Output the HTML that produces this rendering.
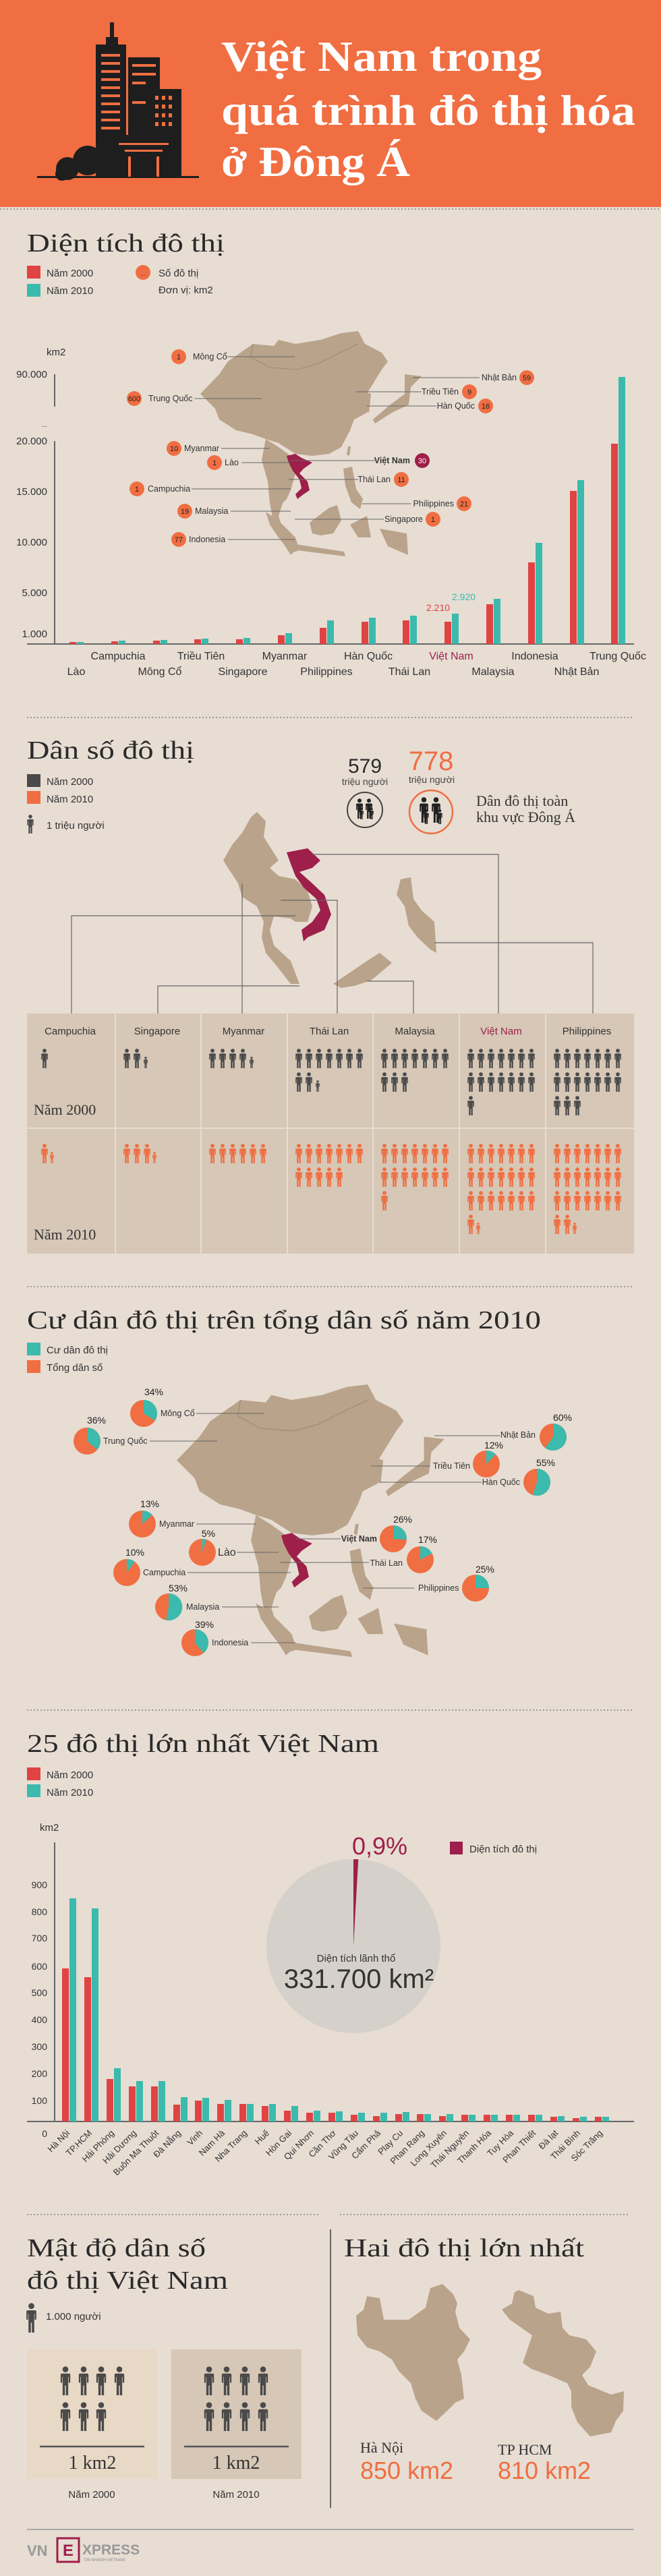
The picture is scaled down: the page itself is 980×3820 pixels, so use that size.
<!DOCTYPE html>
<html><head><meta charset="utf-8"><style>
html,body{margin:0;padding:0;background:#e7ddd3}
svg{display:block}
.s{font-family:"Liberation Sans","DejaVu Sans",sans-serif}
.f{font-family:"Liberation Serif","DejaVu Serif",serif}
</style></head><body>
<svg width="980" height="3820" viewBox="0 0 980 3820" xmlns="http://www.w3.org/2000/svg" xmlns:xlink="http://www.w3.org/1999/xlink">
<defs>
<symbol id="p" viewBox="0 0 10 30"><circle cx="5" cy="3.2" r="3"/><path d="M1.5 7.5h7q1.5 0 1.5 1.5v8h-1.6v-6h-0.5v19h-2.4v-10h-1v10h-2.4v-19h-0.5v6h-1.6v-8q0-1.5 1.5-1.5z"/></symbol>
<g id="r7"><use href="#p" x="0" width="10" height="29"/><use href="#p" x="15" width="10" height="29"/><use href="#p" x="30" width="10" height="29"/><use href="#p" x="45" width="10" height="29"/><use href="#p" x="60" width="10" height="29"/><use href="#p" x="75" width="10" height="29"/><use href="#p" x="90" width="10" height="29"/></g>
<g id="eamap" fill="#b9a38a">
<polygon points="297,584 325,555 338,536 375,510 406,513 413,504 438,510 475,504 506,494 531,491 541,510 566,523 575,536 566,548 550,574 538,593 544,612 525,622 519,638 506,663 488,673 463,676 438,673 413,657 394,651 375,644 350,638 325,622 319,606"/>
<polygon points="394,651 413,663 431,676 438,702 431,727 425,740 419,746 413,765 419,784 431,804 438,816 431,823 419,804 406,778 400,746 397,714 388,682"/>
<polygon points="459,775 488,753 500,749 506,772 494,791 475,794 463,791"/>
<polygon points="394,759 413,772 438,797 444,816 431,820 413,797 400,778"/>
<polygon points="438,807 510,818 512,825 440,816"/>
<polygon points="519,778 544,765 550,797 531,797"/>
<polygon points="563,784 603,791 605,823 575,810"/>
<polygon points="509,695 522,692 528,725 538,740 534,755 521,745 512,720"/>
<polygon points="600,555 625,558 609,574 606,600 581,612 556,628 553,622 575,603 600,584"/>
<polygon points="538,580 550,584 547,612 538,609"/>
<polygon points="516,662 520,662 518,676 514,674"/>
<polyline points="375,510 372,530 400,545 440,548 470,540 500,525 531,510" fill="none" stroke="#a08a72" stroke-width="1"/>
<polygon fill="#9e1f4a" points="425,676 438,673 447,679 463,686 450,695 444,702 456,714 459,727 450,733 441,740 438,733 447,724 444,711 434,698 428,686"/>
</g>
</defs>

<!-- HEADER -->
<rect x="0" y="0" width="980" height="307" fill="#f06e42"/>
<g fill="#1e1e1e">
<rect x="163" y="33" width="6" height="30"/>
<rect x="157" y="55" width="18" height="12"/>
<rect x="142" y="66" width="45" height="197"/>
<rect x="190" y="85" width="47" height="178"/>
<rect x="222" y="132" width="47" height="131"/>
<rect x="168" y="200" width="90" height="63"/>
<circle cx="100" cy="250" r="17"/><circle cx="130" cy="238" r="22"/><circle cx="92" cy="258" r="10"/>
<rect x="55" y="261" width="240" height="3"/>
</g>
<g fill="#f06e42">
<rect x="150" y="80" width="28" height="4"/><rect x="150" y="92" width="28" height="4"/><rect x="150" y="104" width="28" height="4"/><rect x="150" y="116" width="28" height="4"/><rect x="150" y="128" width="28" height="4"/><rect x="150" y="140" width="28" height="4"/><rect x="150" y="152" width="28" height="4"/><rect x="150" y="164" width="28" height="4"/><rect x="150" y="176" width="28" height="4"/><rect x="150" y="188" width="28" height="4"/>
<rect x="196" y="95" width="35" height="4"/><rect x="196" y="108" width="35" height="4"/><rect x="196" y="121" width="20" height="4"/><rect x="196" y="150" width="20" height="4"/>
<rect x="230" y="142" width="5" height="6"/><rect x="240" y="142" width="5" height="6"/><rect x="250" y="142" width="5" height="6"/><rect x="230" y="155" width="5" height="6"/><rect x="240" y="155" width="5" height="6"/><rect x="250" y="155" width="5" height="6"/><rect x="230" y="168" width="5" height="6"/><rect x="240" y="168" width="5" height="6"/><rect x="250" y="168" width="5" height="6"/><rect x="230" y="181" width="5" height="6"/><rect x="240" y="181" width="5" height="6"/><rect x="250" y="181" width="5" height="6"/>
<rect x="176" y="212" width="74" height="3"/><rect x="185" y="222" width="56" height="3"/><rect x="190" y="232" width="4" height="30"/><rect x="232" y="232" width="4" height="30"/>
</g>
<g class="f" font-weight="bold" font-size="64" fill="#fff">
<text x="328" y="105" textLength="475" lengthAdjust="spacingAndGlyphs">Việt Nam trong</text>
<text x="328" y="185" textLength="614" lengthAdjust="spacingAndGlyphs">quá trình đô thị hóa</text>
<text x="328" y="261" textLength="280" lengthAdjust="spacingAndGlyphs">ở Đông Á</text>
</g>
<line x1="0" y1="310" x2="980" y2="310" stroke="#999" stroke-width="2" stroke-dasharray="2,3"/>

<!-- SECTION 1 -->
<text class="f" x="40" y="373" font-size="38" fill="#2a2a2a" textLength="293" lengthAdjust="spacingAndGlyphs">Diện tích đô thị</text>
<rect x="40" y="394" width="20" height="19" fill="#e04343"/>
<rect x="40" y="421" width="20" height="19" fill="#3bbaad"/>
<g class="s" font-size="15" fill="#333">
<text x="69" y="410">Năm 2000</text><text x="69" y="436">Năm 2010</text>
<text x="235" y="410">Số đô thị</text><text x="235" y="435">Đơn vị: km2</text>
</g>
<circle cx="212" cy="404" r="11" fill="#f06e42"/><text class="s" x="212" y="409" font-size="9" text-anchor="middle" fill="#333">...</text>

<use href="#eamap"/>
<g stroke="#666" stroke-width="1">
<line x1="337" y1="529" x2="437" y2="529"/><line x1="288" y1="591" x2="388" y2="591"/>
<line x1="612" y1="560" x2="711" y2="560"/><line x1="528" y1="581" x2="625" y2="581"/><line x1="544" y1="602" x2="647" y2="602"/>
<line x1="328" y1="665" x2="400" y2="665"/><line x1="358" y1="686" x2="431" y2="686"/><line x1="431" y1="683" x2="556" y2="683"/>
<line x1="428" y1="711" x2="531" y2="711"/><line x1="284" y1="725" x2="431" y2="725"/><line x1="537" y1="747" x2="609" y2="747"/>
<line x1="342" y1="758" x2="431" y2="758"/><line x1="437" y1="770" x2="569" y2="770"/><line x1="338" y1="800" x2="437" y2="800"/>
</g>
<g fill="#f06e42">
<circle cx="265" cy="529" r="11"/><circle cx="199" cy="591" r="11"/><circle cx="781" cy="560" r="11"/><circle cx="696" cy="581" r="11"/><circle cx="720" cy="602" r="11"/><circle cx="258" cy="665" r="11"/><circle cx="318" cy="686" r="11"/><circle cx="595" cy="711" r="11"/><circle cx="203" cy="725" r="11"/><circle cx="688" cy="747" r="11"/><circle cx="274" cy="758" r="11"/><circle cx="642" cy="770" r="11"/><circle cx="265" cy="800" r="11"/>
</g>
<circle cx="626" cy="683" r="11" fill="#9e1f4a"/>
<g class="s" font-size="11" text-anchor="middle" fill="#222">
<text x="265" y="533">1</text><text x="199" y="595">600</text><text x="781" y="564">59</text><text x="696" y="585">9</text><text x="720" y="606">16</text><text x="258" y="669">10</text><text x="318" y="690">1</text><text x="595" y="715">11</text><text x="203" y="729">1</text><text x="688" y="751">21</text><text x="274" y="762">19</text><text x="642" y="774">1</text><text x="265" y="804">77</text>
<text x="626" y="687" fill="#fff">30</text>
</g>
<g class="s" font-size="12.5" fill="#333">
<text x="286" y="533">Mông Cổ</text><text x="220" y="595">Trung Quốc</text><text x="273" y="669">Myanmar</text><text x="333" y="690">Lào</text><text x="219" y="729">Campuchia</text><text x="289" y="762">Malaysia</text><text x="280" y="804">Indonesia</text>
<g text-anchor="end"><text x="766" y="564">Nhật Bản</text><text x="680" y="585">Triều Tiên</text><text x="704" y="606">Hàn Quốc</text><text x="608" y="687" font-weight="bold">Việt Nam</text><text x="579" y="715">Thái Lan</text><text x="673" y="751">Philippines</text><text x="627" y="774">Singapore</text></g>
</g>

<!-- chart 1 axis -->
<g stroke="#666" stroke-width="2"><line x1="81" y1="555" x2="81" y2="603"/><line x1="81" y1="654" x2="81" y2="955"/><line x1="40" y1="955" x2="940" y2="955"/></g>
<g class="s" font-size="15" fill="#333" text-anchor="end">
<text x="69" y="527" text-anchor="start">km2</text>
<text x="70" y="560">90.000</text><text x="70" y="633" font-size="10">...</text><text x="70" y="659">20.000</text><text x="70" y="734">15.000</text><text x="70" y="809">10.000</text><text x="70" y="884">5.000</text><text x="70" y="945">1.000</text>
</g>
<g fill="#e04343">
<rect x="103" y="952" width="10" height="3"/><rect x="165" y="951" width="10" height="4"/><rect x="227" y="950" width="10" height="5"/><rect x="288" y="948" width="10" height="7"/><rect x="350" y="948" width="10" height="7"/><rect x="412" y="942" width="10" height="13"/><rect x="474" y="931" width="10" height="24"/><rect x="536" y="922" width="10" height="33"/><rect x="597" y="920" width="10" height="35"/><rect x="659" y="922" width="10" height="33"/><rect x="721" y="896" width="10" height="59"/><rect x="783" y="834" width="10" height="121"/><rect x="845" y="728" width="10" height="227"/><rect x="906" y="658" width="10" height="297"/>
</g>
<g fill="#3bbaad">
<rect x="114" y="952" width="10" height="3"/><rect x="176" y="950" width="10" height="5"/><rect x="238" y="949" width="10" height="6"/><rect x="299" y="947" width="10" height="8"/><rect x="361" y="946" width="10" height="9"/><rect x="423" y="939" width="10" height="16"/><rect x="485" y="920" width="10" height="35"/><rect x="547" y="916" width="10" height="39"/><rect x="608" y="913" width="10" height="42"/><rect x="670" y="910" width="10" height="45"/><rect x="732" y="888" width="10" height="67"/><rect x="794" y="805" width="10" height="150"/><rect x="856" y="712" width="10" height="243"/><rect x="917" y="559" width="10" height="396"/>
</g>
<text class="s" x="632" y="906" font-size="14" fill="#e04343">2.210</text>
<text class="s" x="670" y="890" font-size="14" fill="#3bbaad">2.920</text>
<g class="s" font-size="16" fill="#333" text-anchor="middle">
<text x="175" y="978">Campuchia</text><text x="298" y="978">Triều Tiên</text><text x="422" y="978">Myanmar</text><text x="546" y="978">Hàn Quốc</text><text x="669" y="978" fill="#9e1f4a">Việt Nam</text><text x="793" y="978">Indonesia</text><text x="916" y="978">Trung Quốc</text>
<text x="113" y="1001">Lào</text><text x="237" y="1001">Mông Cổ</text><text x="360" y="1001">Singapore</text><text x="484" y="1001">Philippines</text><text x="607" y="1001">Thái Lan</text><text x="731" y="1001">Malaysia</text><text x="855" y="1001">Nhật Bản</text>
</g>

<!-- SECTION 2 -->
<line x1="40" y1="1064" x2="940" y2="1064" stroke="#999" stroke-width="2" stroke-dasharray="2,3"/>
<text class="f" x="40" y="1125" font-size="38" fill="#2a2a2a" textLength="248" lengthAdjust="spacingAndGlyphs">Dân số đô thị</text>
<rect x="40" y="1148" width="20" height="19" fill="#4a4a4a"/>
<rect x="40" y="1173" width="20" height="19" fill="#f06e42"/>
<g class="s" font-size="15" fill="#333"><text x="69" y="1164">Năm 2000</text><text x="69" y="1190">Năm 2010</text><text x="69" y="1229">1 triệu người</text></g>
<use href="#p" x="40" y="1208" width="10" height="28" fill="#4a4a4a"/>
<text class="s" x="541" y="1146" font-size="30" fill="#2a2a2a" text-anchor="middle">579</text>
<text class="s" x="541" y="1164" font-size="14" fill="#444" text-anchor="middle">triệu người</text>
<text class="s" x="639" y="1142" font-size="40" fill="#f06e42" text-anchor="middle">778</text>
<text class="s" x="640" y="1161" font-size="14" fill="#444" text-anchor="middle">triệu người</text>
<circle cx="541" cy="1201" r="26" fill="none" stroke="#444" stroke-width="2"/>
<circle cx="639" cy="1204" r="32" fill="none" stroke="#f06e42" stroke-width="2.5"/>
<g fill="#222"><use href="#p" x="528" y="1184" width="10" height="30"/><use href="#p" x="542" y="1184" width="10" height="30"/><use href="#p" x="533" y="1198" width="6" height="17"/><use href="#p" x="548" y="1198" width="6" height="17"/>
<use href="#p" x="622" y="1182" width="13" height="38"/><use href="#p" x="640" y="1182" width="13" height="38"/><use href="#p" x="628" y="1200" width="8" height="22"/><use href="#p" x="648" y="1200" width="8" height="22"/></g>
<text class="f" x="706" y="1195" font-size="22" fill="#333">Dân đô thị toàn</text>
<text class="f" x="706" y="1219" font-size="22" fill="#333">khu vực Đông Á</text>

<g fill="#b9a38a">
<polygon points="381,1204 394,1218 391,1241 413,1276 400,1287 413,1299 438,1304 456,1321 463,1344 456,1367 438,1367 431,1362 406,1359 400,1379 406,1402 431,1425 444,1459 431,1459 413,1436 394,1413 388,1390 391,1367 381,1344 359,1330 353,1310 338,1287 331,1276 344,1253 359,1235 372,1212"/>
<polygon points="494,1459 519,1442 544,1425 563,1413 581,1428 550,1454 525,1462 506,1465"/>
<polygon points="594,1304 609,1301 613,1333 625,1350 644,1367 647,1413 638,1408 619,1390 606,1373 600,1344 588,1327"/>
</g>
<polygon fill="#9e1f4a" points="425,1264 456,1258 475,1276 463,1287 444,1293 463,1310 481,1327 491,1356 481,1379 456,1390 450,1396 447,1379 463,1367 475,1350 469,1333 450,1316 438,1299 431,1281"/>
<g stroke="#666" stroke-width="1.2" fill="none">
<polyline points="438,1358 106,1358 106,1503"/><polyline points="444,1462 234,1462 234,1503"/><polyline points="359,1310 359,1503"/><polyline points="416,1335 500,1335 500,1503"/><polyline points="544,1455 613,1455 613,1503"/><polyline points="463,1267 739,1267 739,1503"/><polyline points="644,1398 879,1398 879,1503"/>
</g>
<!-- table -->
<g fill="#d6c7b6">
<rect x="40" y="1503" width="130" height="169"/><rect x="172" y="1503" width="125" height="169"/><rect x="299" y="1503" width="126" height="169"/><rect x="427" y="1503" width="125" height="169"/><rect x="554" y="1503" width="126" height="169"/><rect x="682" y="1503" width="126" height="169"/><rect x="810" y="1503" width="130" height="169"/>
<rect x="40" y="1674" width="130" height="185"/><rect x="172" y="1674" width="125" height="185"/><rect x="299" y="1674" width="126" height="185"/><rect x="427" y="1674" width="125" height="185"/><rect x="554" y="1674" width="126" height="185"/><rect x="682" y="1674" width="126" height="185"/><rect x="810" y="1674" width="130" height="185"/>
</g>
<g class="s" font-size="15" fill="#333" text-anchor="middle">
<text x="104" y="1534">Campuchia</text><text x="233" y="1534">Singapore</text><text x="361" y="1534">Myanmar</text><text x="488" y="1534">Thái Lan</text><text x="615" y="1534">Malaysia</text><text x="743" y="1534" fill="#9e1f4a">Việt Nam</text><text x="870" y="1534">Philippines</text>
</g>
<text class="f" x="50" y="1653" font-size="22" fill="#333">Năm 2000</text>
<text class="f" x="50" y="1838" font-size="22" fill="#333">Năm 2010</text>
<g fill="#4a4a4a">
<use href="#p" x="61" y="1555" width="10" height="29"/>
<use href="#p" x="183" y="1555" width="10" height="29"/><use href="#p" x="198" y="1555" width="10" height="29"/><use href="#p" x="213" y="1567" width="6" height="17"/>
<use href="#p" x="310" y="1555" width="10" height="29"/><use href="#p" x="325" y="1555" width="10" height="29"/><use href="#p" x="340" y="1555" width="10" height="29"/><use href="#p" x="355" y="1555" width="10" height="29"/><use href="#p" x="370" y="1567" width="6" height="17"/>
<use href="#r7" x="438" y="1555"/><use href="#p" x="438" y="1590" width="10" height="29"/><use href="#p" x="453" y="1590" width="10" height="29"/><use href="#p" x="468" y="1602" width="6" height="17"/>
<use href="#r7" x="565" y="1555"/><use href="#p" x="565" y="1590" width="10" height="29"/><use href="#p" x="580" y="1590" width="10" height="29"/><use href="#p" x="595" y="1590" width="10" height="29"/>
<use href="#r7" x="693" y="1555"/><use href="#r7" x="693" y="1590"/><use href="#p" x="693" y="1625" width="10" height="29"/>
<use href="#r7" x="821" y="1555"/><use href="#r7" x="821" y="1590"/><use href="#p" x="821" y="1625" width="10" height="29"/><use href="#p" x="836" y="1625" width="10" height="29"/><use href="#p" x="851" y="1625" width="10" height="29"/>
</g>
<g fill="#f06e42">
<use href="#p" x="61" y="1696" width="10" height="29"/><use href="#p" x="74" y="1708" width="6" height="17"/>
<use href="#p" x="183" y="1696" width="10" height="29"/><use href="#p" x="198" y="1696" width="10" height="29"/><use href="#p" x="213" y="1696" width="10" height="29"/><use href="#p" x="226" y="1708" width="6" height="17"/>
<use href="#p" x="310" y="1696" width="10" height="29"/><use href="#p" x="325" y="1696" width="10" height="29"/><use href="#p" x="340" y="1696" width="10" height="29"/><use href="#p" x="355" y="1696" width="10" height="29"/><use href="#p" x="370" y="1696" width="10" height="29"/><use href="#p" x="385" y="1696" width="10" height="29"/>
<use href="#r7" x="438" y="1696"/><use href="#p" x="438" y="1731" width="10" height="29"/><use href="#p" x="453" y="1731" width="10" height="29"/><use href="#p" x="468" y="1731" width="10" height="29"/><use href="#p" x="483" y="1731" width="10" height="29"/><use href="#p" x="498" y="1731" width="10" height="29"/>
<use href="#r7" x="565" y="1696"/><use href="#r7" x="565" y="1731"/><use href="#p" x="565" y="1766" width="10" height="29"/>
<use href="#r7" x="693" y="1696"/><use href="#r7" x="693" y="1731"/><use href="#r7" x="693" y="1766"/><use href="#p" x="693" y="1801" width="10" height="29"/><use href="#p" x="706" y="1813" width="6" height="17"/>
<use href="#r7" x="821" y="1696"/><use href="#r7" x="821" y="1731"/><use href="#r7" x="821" y="1766"/><use href="#p" x="821" y="1801" width="10" height="29"/><use href="#p" x="836" y="1801" width="10" height="29"/><use href="#p" x="849" y="1813" width="6" height="17"/>
</g>

<!-- SECTION 3 -->
<line x1="40" y1="1908" x2="940" y2="1908" stroke="#999" stroke-width="2" stroke-dasharray="2,3"/>
<text class="f" x="40" y="1970" font-size="38" fill="#2a2a2a" textLength="762" lengthAdjust="spacingAndGlyphs">Cư dân đô thị trên tổng dân số năm 2010</text>
<rect x="40" y="1991" width="20" height="19" fill="#3bbaad"/>
<rect x="40" y="2017" width="20" height="19" fill="#f06e42"/>
<g class="s" font-size="15" fill="#333"><text x="69" y="2007">Cư dân đô thị</text><text x="69" y="2033">Tổng dân số</text></g>
<use href="#eamap" transform="translate(262 2053) scale(1.21) translate(-297 -491)"/>
<g stroke="#666" stroke-width="1">
<line x1="291" y1="2096" x2="391" y2="2096"/><line x1="222" y1="2137" x2="322" y2="2137"/><line x1="644" y1="2129" x2="741" y2="2129"/><line x1="550" y1="2174" x2="638" y2="2174"/><line x1="563" y1="2198" x2="714" y2="2198"/><line x1="291" y1="2260" x2="380" y2="2260"/><line x1="351" y1="2302" x2="413" y2="2302"/><line x1="278" y1="2332" x2="431" y2="2332"/><line x1="438" y1="2282" x2="505" y2="2282"/><line x1="416" y1="2317" x2="547" y2="2317"/><line x1="538" y1="2355" x2="614" y2="2355"/><line x1="329" y1="2383" x2="413" y2="2383"/><line x1="372" y1="2436" x2="438" y2="2436"/>
</g>
<g fill="#f06e42">
<circle cx="213" cy="2096" r="20"/><circle cx="129" cy="2137" r="20"/><circle cx="820" cy="2131" r="20"/><circle cx="721" cy="2171" r="20"/><circle cx="796" cy="2198" r="20"/><circle cx="211" cy="2260" r="20"/><circle cx="300" cy="2302" r="20"/><circle cx="188" cy="2332" r="20"/><circle cx="583" cy="2282" r="20"/><circle cx="623" cy="2313" r="20"/><circle cx="705" cy="2355" r="20"/><circle cx="250" cy="2383" r="20"/><circle cx="289" cy="2436" r="20"/>
</g>
<g fill="#3bbaad">
<path d="M213 2096L213 2076A20 20 0 0 1 229.9 2106.7Z"/>
<path d="M129 2137L129 2117A20 20 0 0 1 144.4 2149.7Z"/>
<path d="M820 2131L820 2111A20 20 0 1 1 808.2 2147.2Z"/>
<path d="M721 2171L721 2151A20 20 0 0 1 734.7 2156.4Z"/>
<path d="M796 2198L796 2178A20 20 0 1 1 789.8 2217Z"/>
<path d="M211 2260L211 2240A20 20 0 0 1 225.6 2246.3Z"/>
<path d="M300 2302L300 2282A20 20 0 0 1 306.2 2283Z"/>
<path d="M188 2332L188 2312A20 20 0 0 1 199.8 2315.8Z"/>
<path d="M583 2282L583 2262A20 20 0 0 1 603 2283.3Z"/>
<path d="M623 2313L623 2293A20 20 0 0 1 640.5 2303.4Z"/>
<path d="M705 2355L705 2335A20 20 0 0 1 725 2355Z"/>
<path d="M250 2383L250 2363A20 20 0 1 1 246.3 2402.6Z"/>
<path d="M289 2436L289 2416A20 20 0 0 1 301.7 2451.4Z"/>
</g>
<g class="s" font-size="14" fill="#222" text-anchor="middle">
<text x="228" y="2069">34%</text><text x="143" y="2111">36%</text><text x="834" y="2107">60%</text><text x="732" y="2148">12%</text><text x="809" y="2174">55%</text><text x="222" y="2235">13%</text><text x="309" y="2279">5%</text><text x="200" y="2307">10%</text><text x="597" y="2258">26%</text><text x="634" y="2288">17%</text><text x="719" y="2332">25%</text><text x="264" y="2360">53%</text><text x="303" y="2414">39%</text>
</g>
<g class="s" font-size="12.5" fill="#333">
<text x="238" y="2100">Mông Cổ</text><text x="153" y="2141">Trung Quốc</text><text x="236" y="2264">Myanmar</text><text x="323" y="2307" font-size="16">Lào</text><text x="212" y="2336">Campuchia</text><text x="620" y="2359">Philippines</text><text x="276" y="2387">Malaysia</text><text x="314" y="2440">Indonesia</text>
<g text-anchor="end"><text x="794" y="2132">Nhật Bản</text><text x="697" y="2178">Triều Tiên</text><text x="771" y="2202">Hàn Quốc</text><text x="559" y="2286" font-weight="bold">Việt Nam</text><text x="597" y="2322">Thái Lan</text></g>
</g>

<!-- SECTION 4 -->
<line x1="40" y1="2536" x2="940" y2="2536" stroke="#999" stroke-width="2" stroke-dasharray="2,3"/>
<text class="f" x="40" y="2598" font-size="38" fill="#2a2a2a" textLength="522" lengthAdjust="spacingAndGlyphs">25 đô thị lớn nhất Việt Nam</text>
<rect x="40" y="2621" width="20" height="19" fill="#e04343"/>
<rect x="40" y="2646" width="20" height="19" fill="#3bbaad"/>
<g class="s" font-size="15" fill="#333"><text x="69" y="2637">Năm 2000</text><text x="69" y="2663">Năm 2010</text><text x="59" y="2715">km2</text></g>
<g stroke="#666" stroke-width="2"><line x1="81" y1="2732" x2="81" y2="3146"/><line x1="40" y1="3146" x2="940" y2="3146"/></g>
<g class="s" font-size="14" fill="#333" text-anchor="end">
<text x="70" y="2800">900</text><text x="70" y="2840">800</text><text x="70" y="2879">700</text><text x="70" y="2921">600</text><text x="70" y="2960">500</text><text x="70" y="3000">400</text><text x="70" y="3040">300</text><text x="70" y="3080">200</text><text x="70" y="3120">100</text><text x="70" y="3169">0</text>
</g>
<g fill="#e04343">
<rect x="92" y="2919" width="10" height="227"/><rect x="125" y="2932" width="10" height="214"/><rect x="158" y="3083" width="10" height="63"/><rect x="191" y="3094" width="10" height="52"/><rect x="224" y="3094" width="10" height="52"/><rect x="257" y="3121" width="10" height="25"/><rect x="289" y="3115" width="10" height="31"/><rect x="322" y="3120" width="10" height="26"/><rect x="355" y="3120" width="10" height="26"/><rect x="388" y="3123" width="10" height="23"/><rect x="421" y="3130" width="10" height="16"/><rect x="454" y="3133" width="10" height="13"/><rect x="487" y="3133" width="10" height="13"/><rect x="520" y="3136" width="10" height="10"/><rect x="553" y="3138" width="10" height="8"/><rect x="586" y="3135" width="10" height="11"/><rect x="618" y="3135" width="10" height="11"/><rect x="651" y="3138" width="10" height="8"/><rect x="684" y="3136" width="10" height="10"/><rect x="717" y="3136" width="10" height="10"/><rect x="750" y="3136" width="10" height="10"/><rect x="783" y="3136" width="10" height="10"/><rect x="816" y="3139" width="10" height="7"/><rect x="849" y="3141" width="10" height="5"/><rect x="882" y="3139" width="10" height="7"/>
</g>
<g fill="#3bbaad">
<rect x="103" y="2815" width="10" height="331"/><rect x="136" y="2830" width="10" height="316"/><rect x="169" y="3067" width="10" height="79"/><rect x="202" y="3086" width="10" height="60"/><rect x="235" y="3086" width="10" height="60"/><rect x="268" y="3110" width="10" height="36"/><rect x="300" y="3111" width="10" height="35"/><rect x="333" y="3114" width="10" height="32"/><rect x="366" y="3120" width="10" height="26"/><rect x="399" y="3120" width="10" height="26"/><rect x="432" y="3123" width="10" height="23"/><rect x="465" y="3130" width="10" height="16"/><rect x="498" y="3131" width="10" height="15"/><rect x="531" y="3133" width="10" height="13"/><rect x="564" y="3133" width="10" height="13"/><rect x="597" y="3132" width="10" height="14"/><rect x="629" y="3135" width="10" height="11"/><rect x="662" y="3135" width="10" height="11"/><rect x="695" y="3136" width="10" height="10"/><rect x="728" y="3136" width="10" height="10"/><rect x="761" y="3136" width="10" height="10"/><rect x="794" y="3136" width="10" height="10"/><rect x="827" y="3138" width="10" height="8"/><rect x="860" y="3139" width="10" height="7"/><rect x="893" y="3139" width="10" height="7"/>
</g>
<g class="s" font-size="13" fill="#333" text-anchor="end">
<text transform="translate(104 3164) rotate(-45)">Hà Nội</text><text transform="translate(137 3164) rotate(-45)">TP.HCM</text><text transform="translate(170 3164) rotate(-45)">Hải Phòng</text><text transform="translate(203 3164) rotate(-45)">Hải Dương</text><text transform="translate(236 3164) rotate(-45)">Buôn Ma Thuột</text><text transform="translate(269 3164) rotate(-45)">Đà Nẵng</text><text transform="translate(301 3164) rotate(-45)">Vinh</text><text transform="translate(334 3164) rotate(-45)">Nam Hà</text><text transform="translate(367 3164) rotate(-45)">Nha Trang</text><text transform="translate(400 3164) rotate(-45)">Huế</text><text transform="translate(433 3164) rotate(-45)">Hòn Gai</text><text transform="translate(466 3164) rotate(-45)">Qui Nhơn</text><text transform="translate(499 3164) rotate(-45)">Cần Thơ</text><text transform="translate(532 3164) rotate(-45)">Vũng Tàu</text><text transform="translate(565 3164) rotate(-45)">Cẩm Phả</text><text transform="translate(598 3164) rotate(-45)">Play Cu</text><text transform="translate(630 3164) rotate(-45)">Phan Rang</text><text transform="translate(663 3164) rotate(-45)">Long Xuyên</text><text transform="translate(696 3164) rotate(-45)">Thái Nguyên</text><text transform="translate(729 3164) rotate(-45)">Thanh Hóa</text><text transform="translate(762 3164) rotate(-45)">Tuy Hòa</text><text transform="translate(795 3164) rotate(-45)">Phan Thiết</text><text transform="translate(828 3164) rotate(-45)">Đà lạt</text><text transform="translate(861 3164) rotate(-45)">Thái Bình</text><text transform="translate(894 3164) rotate(-45)">Sóc Trăng</text>
</g>
<circle cx="524" cy="2886" r="129" fill="#d5d0c9"/>
<path d="M524 2886L524 2757A129 129 0 0 1 531.3 2757.2Z" fill="#9e1f4a"/>
<text class="s" x="522" y="2750" font-size="36" fill="#9e1f4a">0,9%</text>
<rect x="667" y="2731" width="19" height="19" fill="#9e1f4a"/>
<text class="s" x="696" y="2747" font-size="15" fill="#333">Diện tích đô thị</text>
<text class="s" x="528" y="2909" font-size="15" fill="#333" text-anchor="middle">Diện tích lãnh thổ</text>
<text class="s" x="532" y="2948" font-size="40" fill="#333" text-anchor="middle">331.700 km²</text>

<!-- SECTION 5 -->
<line x1="40" y1="3284" x2="472" y2="3284" stroke="#999" stroke-width="2" stroke-dasharray="2,3"/>
<line x1="504" y1="3284" x2="934" y2="3284" stroke="#999" stroke-width="2" stroke-dasharray="2,3"/>
<line x1="490" y1="3306" x2="490" y2="3719" stroke="#666" stroke-width="2"/>
<g class="f" font-size="38" fill="#2a2a2a">
<text x="40" y="3346" textLength="265" lengthAdjust="spacingAndGlyphs">Mật độ dân số</text>
<text x="40" y="3394" textLength="298" lengthAdjust="spacingAndGlyphs">đô thị Việt Nam</text>
<text x="510" y="3346" textLength="356" lengthAdjust="spacingAndGlyphs">Hai đô thị lớn nhất</text>
</g>
<use href="#p" x="39" y="3415" width="15" height="44" fill="#4a4a4a"/>
<text class="s" x="68" y="3440" font-size="15" fill="#333">1.000 người</text>
<rect x="40" y="3484" width="193" height="192" fill="#e8d8c6"/>
<rect x="254" y="3484" width="193" height="192" fill="#d6c7b6"/>
<g fill="#4a4a4a">
<use href="#p" x="87" y="3509" width="20" height="43"/><use href="#p" x="114" y="3509" width="20" height="43"/><use href="#p" x="140" y="3509" width="20" height="43"/><use href="#p" x="167" y="3509" width="20" height="43"/>
<use href="#p" x="87" y="3562" width="20" height="43"/><use href="#p" x="114" y="3562" width="20" height="43"/><use href="#p" x="140" y="3562" width="20" height="43"/>
<use href="#p" x="300" y="3509" width="20" height="43"/><use href="#p" x="326" y="3509" width="20" height="43"/><use href="#p" x="353" y="3509" width="20" height="43"/><use href="#p" x="380" y="3509" width="20" height="43"/>
<use href="#p" x="300" y="3562" width="20" height="43"/><use href="#p" x="326" y="3562" width="20" height="43"/><use href="#p" x="353" y="3562" width="20" height="43"/><use href="#p" x="380" y="3562" width="20" height="43"/>
</g>
<line x1="59" y1="3628" x2="214" y2="3628" stroke="#555" stroke-width="2.5"/>
<line x1="273" y1="3628" x2="428" y2="3628" stroke="#555" stroke-width="2.5"/>
<text class="f" x="137" y="3661" font-size="28" fill="#333" text-anchor="middle">1 km2</text>
<text class="f" x="350" y="3661" font-size="28" fill="#333" text-anchor="middle">1 km2</text>
<text class="s" x="136" y="3704" font-size="15" fill="#333" text-anchor="middle">Năm 2000</text>
<text class="s" x="350" y="3704" font-size="15" fill="#333" text-anchor="middle">Năm 2010</text>
<polygon fill="#b9a38a" points="544,3405 563,3408 569,3440 606,3440 631,3422 638,3393 656,3387 672,3402 678,3416 675,3428 681,3452 697,3469 688,3487 678,3499 684,3522 688,3557 675,3563 663,3575 647,3590 625,3575 616,3557 609,3534 591,3516 581,3499 563,3487 544,3481 530,3463 528,3434 539,3425"/>
<polygon fill="#b9a38a" points="769,3396 791,3405 794,3422 813,3431 831,3428 834,3452 844,3463 869,3469 884,3487 875,3510 863,3522 872,3537 906,3551 925,3546 924,3575 913,3590 906,3607 875,3613 856,3592 847,3569 847,3546 841,3534 813,3522 788,3513 775,3504 781,3487 789,3463 756,3440 744,3425 759,3416 763,3399"/>
<text class="f" x="534" y="3637" font-size="22" fill="#333">Hà Nội</text>
<text class="s" x="534" y="3676" font-size="36" fill="#f06e42">850 km2</text>
<text class="f" x="738" y="3640" font-size="22" fill="#333">TP HCM</text>
<text class="s" x="738" y="3676" font-size="36" fill="#f06e42">810 km2</text>

<!-- FOOTER -->
<line x1="40" y1="3751" x2="940" y2="3751" stroke="#aaa" stroke-width="2"/>
<text class="s" x="40" y="3790" font-size="22" font-weight="bold" fill="#999">VN</text>
<rect x="85" y="3764" width="32" height="35" fill="none" stroke="#9e1f4a" stroke-width="3"/>
<text class="s" x="101" y="3790" font-size="24" font-weight="bold" fill="#9e1f4a" text-anchor="middle">E</text>
<text class="s" x="122" y="3788" font-size="21" font-weight="bold" fill="#999">XPRESS</text>
<text class="s" x="124" y="3798" font-size="6" fill="#888">TIN NHANH VIETNAM</text>
</svg>
</body></html>
